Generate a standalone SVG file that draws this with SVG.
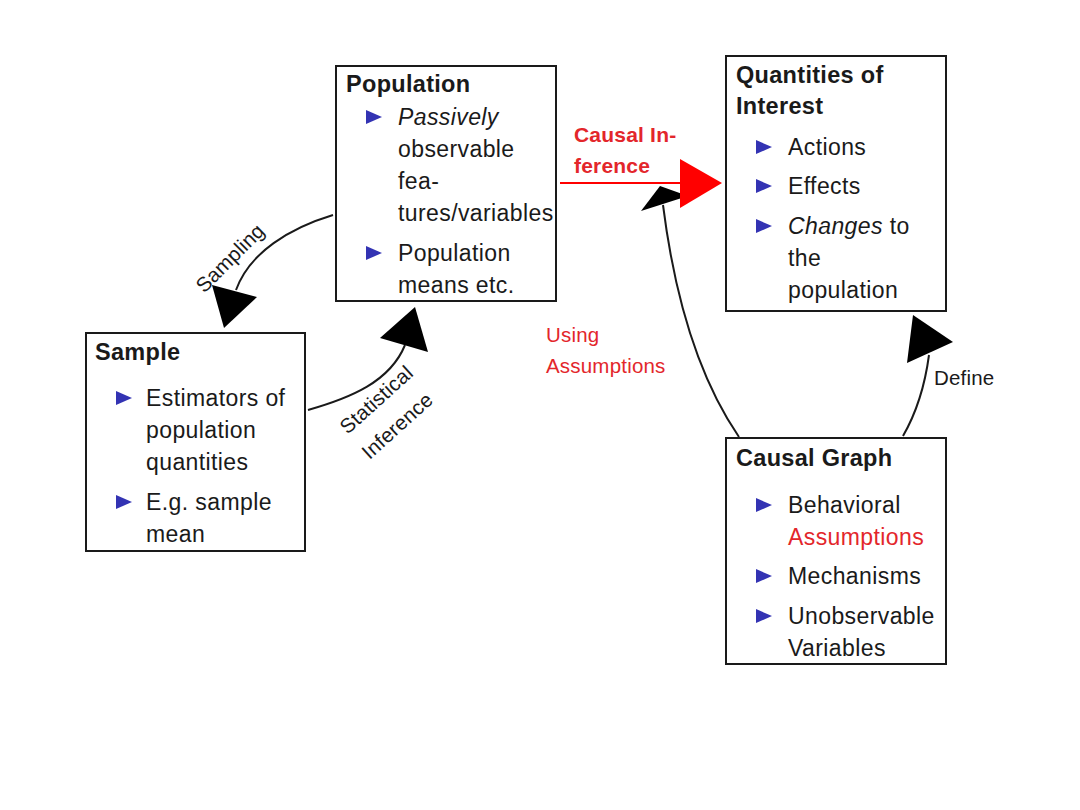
<svg xmlns="http://www.w3.org/2000/svg" width="1080" height="810" viewBox="0 0 1080 810">
<defs>
<style>
text{font-family:"Liberation Sans",Arial,sans-serif;font-size:23px;letter-spacing:0.4px;fill:#1a1a1a}
.t{font-weight:bold;font-size:23.5px;letter-spacing:0.3px}
.box{fill:#fff;stroke:#1a1a1a;stroke-width:2}
.b{fill:#3333b3}
.edge{fill:none;stroke:#1a1a1a;stroke-width:2}
.head{fill:#000}
.lbl{font-size:20.5px;letter-spacing:0.2px}
.red{fill:#e3262b}
</style>
<polygon id="bul" class="b" points="0,0 16,7 0,14"/>
</defs>
<rect width="1080" height="810" fill="#fff"/>
<g id="connectors">
<path class="edge" d="M333,215 C290,228 250,252 236,290"/>
<polygon class="head" points="224,328 212,285 257,297"/>
<text class="lbl" transform="translate(235,263) rotate(-45)" text-anchor="middle">Sampling</text>
<path class="edge" d="M308,410 C350,398 390,382 405,345"/>
<polygon class="head" points="415,307 380,338 428,352"/>
<text class="lbl" transform="translate(381,405) rotate(-42)" text-anchor="middle">Statistical</text>
<text class="lbl" transform="translate(402,431) rotate(-42)" text-anchor="middle">Inference</text>
<path class="edge" d="M739,437 C700,380 675,300 663,205"/>
<polygon class="head" points="660,186 641,211 688,196"/>
<text class="lbl red" x="546" y="342">Using</text>
<text class="lbl red" x="546" y="373">Assumptions</text>
<line x1="560" y1="183" x2="690" y2="183" stroke="#ff0000" stroke-width="2"/>
<polygon fill="#ff0000" points="722,183 680,159 680,208"/>
<text class="lbl red t" x="574" y="142" style="font-size:21px">Causal In-</text>
<text class="lbl red t" x="574" y="173" style="font-size:21px">ference</text>
<path class="edge" d="M903,436 C918,410 925,385 929,355"/>
<polygon class="head" points="913,315 907,363 953,342"/>
<text class="lbl" x="934" y="385">Define</text>
</g>
<g id="population">
<rect class="box" x="336" y="66" width="220" height="235"/>
<text class="t" x="346" y="92">Population</text>
<use href="#bul" x="366" y="110"/>
<text x="398" y="125" font-style="italic">Passively</text>
<text x="398" y="157">observable</text>
<text x="398" y="189">fea-</text>
<text x="398" y="221">tures/variables</text>
<use href="#bul" x="366" y="246"/>
<text x="398" y="261">Population</text>
<text x="398" y="293">means etc.</text>
</g>
<g id="sample">
<rect class="box" x="86" y="333" width="219" height="218"/>
<text class="t" x="95" y="360">Sample</text>
<use href="#bul" x="116" y="391"/>
<text x="146" y="406">Estimators of</text>
<text x="146" y="438">population</text>
<text x="146" y="470">quantities</text>
<use href="#bul" x="116" y="495"/>
<text x="146" y="510">E.g.  sample</text>
<text x="146" y="542">mean</text>
</g>
<g id="quantities">
<rect class="box" x="726" y="56" width="220" height="255"/>
<text class="t" x="736" y="83">Quantities of</text>
<text class="t" x="736" y="114">Interest</text>
<use href="#bul" x="756" y="140"/>
<text x="788" y="155">Actions</text>
<use href="#bul" x="756" y="179"/>
<text x="788" y="194">Effects</text>
<use href="#bul" x="756" y="219"/>
<text x="788" y="234"><tspan font-style="italic">Changes</tspan> to</text>
<text x="788" y="266">the</text>
<text x="788" y="298">population</text>
</g>
<g id="causal-graph">
<rect class="box" x="726" y="438" width="220" height="226"/>
<text class="t" x="736" y="466">Causal Graph</text>
<use href="#bul" x="756" y="498"/>
<text x="788" y="513">Behavioral</text>
<text x="788" y="545" class="red">Assumptions</text>
<use href="#bul" x="756" y="569"/>
<text x="788" y="584">Mechanisms</text>
<use href="#bul" x="756" y="609"/>
<text x="788" y="624">Unobservable</text>
<text x="788" y="656">Variables</text>
</g>
</svg>
